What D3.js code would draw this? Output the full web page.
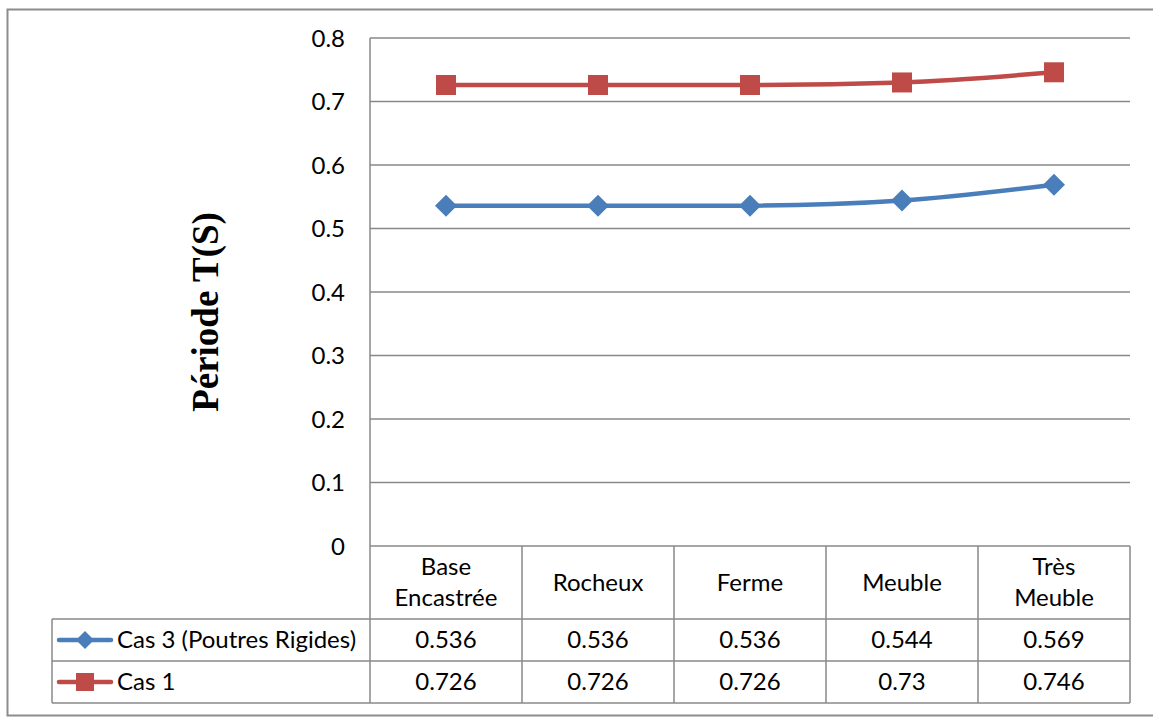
<!DOCTYPE html>
<html><head><meta charset="utf-8">
<script src="https://cdn.jsdelivr.net/npm/d3@7"></script>
<style>html,body{margin:0;padding:0;background:#fff;}svg{display:block;}</style>
</head><body>
<svg id="chart" width="1153" height="719"></svg>
<script>
const categories = [["Base","Encastrée"],["Rocheux"],["Ferme"],["Meuble"],["Très","Meuble"]];
const seriesNames = ["Cas 3 (Poutres Rigides)", "Cas 1"];
const cas3 = [0.536, 0.536, 0.536, 0.544, 0.569];
const cas1 = [0.726, 0.726, 0.726, 0.73, 0.746];
const cas3Labels = ["0.536","0.536","0.536","0.544","0.569"];
const cas1Labels = ["0.726","0.726","0.726","0.73","0.746"];
const yTicks = [0, 0.1, 0.2, 0.3, 0.4, 0.5, 0.6, 0.7, 0.8];
const yTitle = "Période T(S)";

const svg = d3.select("#chart");
const font = "Lato, 'Open Sans', sans-serif";
const fs = 24;
const grid = "#888888";
const colors = ["#4A7EBB", "#BE4B48"];

const L = 370, R = 1130, T = 38, B = 546;
const tableLeft = 52, headBottom = 619, row1Bottom = 661, row2Bottom = 703;

// outer border
svg.append("rect").attr("x", 7.5).attr("y", 9.5).attr("width", 1160).attr("height", 706)
  .attr("fill", "none").attr("stroke", "#8c8c8c").attr("stroke-width", 2);

const x = d3.scaleBand().domain(d3.range(categories.length)).range([L, R]).padding(0);
const y = d3.scaleLinear().domain([0, 0.8]).range([B, T]);

// gridlines
svg.append("g").selectAll("line").data(yTicks).join("line")
  .attr("x1", L).attr("x2", R).attr("y1", d => y(d)).attr("y2", d => y(d))
  .attr("stroke", grid).attr("stroke-width", 1.5);

// y axis
const yAxis = d3.axisLeft(y).tickValues(yTicks).tickSize(0).tickPadding(25)
  .tickFormat(d => d === 0 ? "0" : d3.format(".1f")(d));
const ya = svg.append("g").attr("transform", `translate(${L},0)`).call(yAxis);
ya.select(".domain").remove();
ya.selectAll("text").attr("font-family", font).attr("font-size", fs).attr("fill", "#000").attr("dy", "0.35em");

// vertical axis line down through table
svg.append("line").attr("x1", L).attr("x2", L).attr("y1", T).attr("y2", row2Bottom)
  .attr("stroke", grid).attr("stroke-width", 1.5);

// table lines
const tg = svg.append("g").attr("stroke", grid).attr("stroke-width", 1.5);
d3.range(categories.length).forEach(i => {
  const xr = x(i) + x.bandwidth();
  tg.append("line").attr("x1", xr).attr("x2", xr).attr("y1", B).attr("y2", row2Bottom);
});
tg.append("line").attr("x1", tableLeft).attr("x2", R).attr("y1", headBottom).attr("y2", headBottom);
tg.append("line").attr("x1", tableLeft).attr("x2", R).attr("y1", row1Bottom).attr("y2", row1Bottom);
tg.append("line").attr("x1", tableLeft).attr("x2", R).attr("y1", row2Bottom).attr("y2", row2Bottom);
tg.append("line").attr("x1", tableLeft).attr("x2", tableLeft).attr("y1", headBottom).attr("y2", row2Bottom);

// header labels
categories.forEach((lines, i) => {
  const cx = x(i) + x.bandwidth() / 2;
  const cy = (B + headBottom) / 2;
  const lh = 31;
  lines.forEach((t, j) => {
    svg.append("text").attr("x", cx).attr("y", cy + (j - (lines.length - 1) / 2) * lh)
      .attr("dy", "0.35em").attr("text-anchor", "middle")
      .attr("font-family", font).attr("font-size", fs).text(t);
  });
});

// data rows
[[cas3Labels, (headBottom + row1Bottom) / 2], [cas1Labels, (row1Bottom + row2Bottom) / 2]].forEach(([labs, cy]) => {
  labs.forEach((t, i) => {
    svg.append("text").attr("x", x(i) + x.bandwidth() / 2).attr("y", cy).attr("dy", "0.35em")
      .attr("text-anchor", "middle").attr("font-family", font).attr("font-size", fs).text(t);
  });
});

// lines
const line = d3.line().x((d, i) => x(i) + x.bandwidth() / 2).y(d => y(d)).curve(d3.curveMonotoneX);
const data = [cas3, cas1];
data.forEach((s, k) => {
  svg.append("path").attr("d", line(s)).attr("fill", "none").attr("stroke", colors[k])
    .attr("stroke-width", 4.5).attr("stroke-linejoin", "round");
});
// markers
svg.append("g").selectAll("path").data(cas3).join("path")
  .attr("transform", (d, i) => `translate(${x(i) + x.bandwidth() / 2},${y(d)})`)
  .attr("d", "M0,-11L11,0L0,11L-11,0Z").attr("fill", colors[0]);
svg.append("g").selectAll("rect").data(cas1).join("rect")
  .attr("x", (d, i) => x(i) + x.bandwidth() / 2 - 10).attr("y", d => y(d) - 10)
  .attr("width", 20).attr("height", 20).attr("fill", colors[1]);

// legend keys in table
const rowsY = [(headBottom + row1Bottom) / 2, (row1Bottom + row2Bottom) / 2];
seriesNames.forEach((n, k) => {
  const cy = rowsY[k];
  svg.append("line").attr("x1", 59).attr("x2", 111).attr("y1", cy).attr("y2", cy)
    .attr("stroke", colors[k]).attr("stroke-width", 4.5).attr("stroke-linecap", "round");
  if (k === 0) {
    svg.append("path").attr("transform", `translate(85,${cy})`).attr("d", "M0,-9L9,0L0,9L-9,0Z").attr("fill", colors[0]);
  } else {
    svg.append("rect").attr("x", 76).attr("y", cy - 9).attr("width", 18).attr("height", 18).attr("fill", colors[1]);
  }
  svg.append("text").attr("x", 117).attr("y", cy).attr("dy", "0.35em")
    .attr("font-family", font).attr("font-size", fs).text(n);
});

// y title
svg.append("text").attr("transform", "translate(218,312) rotate(-90)")
  .attr("text-anchor", "middle").attr("font-family", "'Liberation Serif', 'Times New Roman', serif")
  .attr("font-weight", "bold").attr("font-size", 37).text(yTitle);
</script>
</body></html>
